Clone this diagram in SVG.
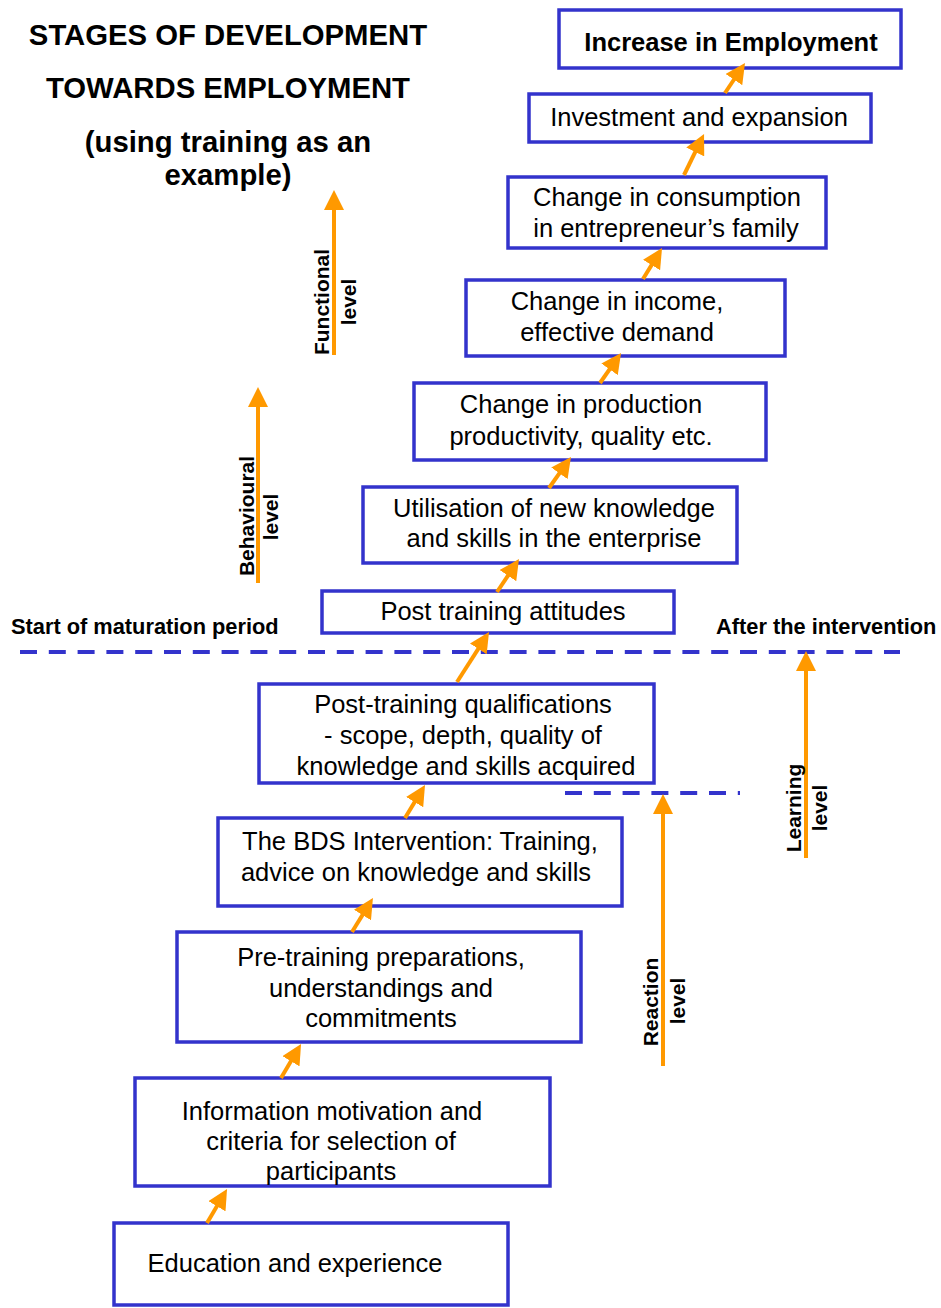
<svg xmlns="http://www.w3.org/2000/svg" width="941" height="1308" viewBox="0 0 941 1308">
  <style>
    text { font-family: "Liberation Sans", Arial, sans-serif; fill: #000; }
    .box { fill: #fff; stroke: #3333CC; stroke-width: 3.5; }
    .bt { font-size: 25.5px; text-anchor: middle; }
    .title { font-size: 29.3px; font-weight: bold; text-anchor: middle; }
    .lab { font-size: 21.8px; font-weight: bold; }
    .vlab { font-size: 21px; font-weight: bold; text-anchor: middle; }
    .conn { stroke: #FF9900; stroke-width: 4; fill: none; marker-end: url(#ah); }
    .dash { stroke: #3333CC; stroke-width: 4; stroke-dasharray: 17 11.8; fill: none; }
  </style>
  <defs>
    <marker id="ah" markerUnits="userSpaceOnUse" markerWidth="20" markerHeight="20" viewBox="0 0 20 20" refX="14" refY="10" orient="auto">
      <path d="M0,0 L20,10 L0,20 z" fill="#FF9900"/>
    </marker>
  </defs>
  <rect width="941" height="1308" fill="#fff"/>

  <!-- heading -->
  <g id="heading">
    <text class="title" x="228" y="45">STAGES OF DEVELOPMENT</text>
    <text class="title" x="228" y="98">TOWARDS EMPLOYMENT</text>
    <text class="title" x="228" y="152">(using training as an</text>
    <text class="title" x="228" y="185">example)</text>
  </g>

  <!-- period markers -->
  <g id="periods">
    <path class="dash" d="M20,652 H900"/>
    <path class="dash" d="M565,793 H740"/>
    <text class="lab" x="11" y="634">Start of maturation period</text>
    <text class="lab" x="716" y="634">After the intervention</text>
  </g>

  <!-- stages -->
  <g id="n-increase">
    <rect class="box" x="559" y="10" width="342" height="58"/>
    <text class="bt" x="731" y="51" font-weight="bold">Increase in Employment</text>
  </g>
  <g id="n-investment">
    <rect class="box" x="529" y="94" width="342" height="48"/>
    <text class="bt" x="699" y="126">Investment and expansion</text>
  </g>
  <g id="n-consumption">
    <rect class="box" x="508" y="177" width="318" height="71"/>
    <text class="bt" x="667" y="206">Change in consumption</text>
    <text class="bt" x="666" y="237">in entrepreneur’s family</text>
  </g>
  <g id="n-income">
    <rect class="box" x="466" y="280" width="319" height="76"/>
    <text class="bt" x="617" y="310">Change in income,</text>
    <text class="bt" x="617" y="341">effective demand</text>
  </g>
  <g id="n-production">
    <rect class="box" x="414" y="383" width="352" height="77"/>
    <text class="bt" x="581" y="413">Change in production</text>
    <text class="bt" x="581" y="445">productivity, quality etc.</text>
  </g>
  <g id="n-utilisation">
    <rect class="box" x="363" y="487" width="374" height="76"/>
    <text class="bt" x="554" y="517">Utilisation of new knowledge</text>
    <text class="bt" x="554" y="547">and skills in the enterprise</text>
  </g>
  <g id="n-attitudes">
    <rect class="box" x="322" y="591" width="352" height="42"/>
    <text class="bt" x="503" y="620">Post training attitudes</text>
  </g>
  <g id="n-qualifications">
    <rect class="box" x="259" y="684" width="395" height="99"/>
    <text class="bt" x="463" y="713">Post-training qualifications</text>
    <text class="bt" x="463" y="744">- scope, depth, quality of</text>
    <text class="bt" x="466" y="775">knowledge and skills acquired</text>
  </g>
  <g id="n-intervention">
    <rect class="box" x="218" y="818" width="404" height="88"/>
    <text class="bt" x="420" y="850">The BDS Intervention: Training,</text>
    <text class="bt" x="416" y="881">advice on knowledge and skills</text>
  </g>
  <g id="n-preparations">
    <rect class="box" x="177" y="932" width="404" height="110"/>
    <text class="bt" x="381" y="966">Pre-training preparations,</text>
    <text class="bt" x="381" y="997">understandings and</text>
    <text class="bt" x="381" y="1027">commitments</text>
  </g>
  <g id="n-information">
    <rect class="box" x="135" y="1078" width="415" height="108"/>
    <text class="bt" x="332" y="1120">Information motivation and</text>
    <text class="bt" x="331" y="1150">criteria for selection of</text>
    <text class="bt" x="331" y="1180">participants</text>
  </g>
  <g id="n-education">
    <rect class="box" x="114" y="1223" width="394" height="82"/>
    <text class="bt" x="295" y="1272">Education and experience</text>
  </g>

  <!-- level axes -->
  <g id="levels">
    <path class="conn" d="M334,355 V196"/>
    <text class="vlab" transform="translate(329,302) rotate(-90)">Functional</text>
    <text class="vlab" transform="translate(356,302) rotate(-90)">level</text>

    <path class="conn" d="M258,583 V393"/>
    <text class="vlab" transform="translate(254,516) rotate(-90)">Behavioural</text>
    <text class="vlab" transform="translate(278,517) rotate(-90)">level</text>

    <path class="conn" d="M806,858 V657"/>
    <text class="vlab" transform="translate(801,808) rotate(-90)">Learning</text>
    <text class="vlab" transform="translate(827,808) rotate(-90)">level</text>

    <path class="conn" d="M663,1066 V800"/>
    <text class="vlab" transform="translate(658,1002) rotate(-90)">Reaction</text>
    <text class="vlab" transform="translate(685,1001) rotate(-90)">level</text>
  </g>

  <!-- connectors between stages -->
  <g id="connectors">
    <path class="conn" d="M207,1223 L224,1194.2"/>
    <path class="conn" d="M281,1078 L298,1049.2"/>
    <path class="conn" d="M352,932 L369.8,903.1"/>
    <path class="conn" d="M405,818 L421.9,790.1"/>
    <path class="conn" d="M457,682 L485.8,637.1"/>
    <path class="conn" d="M497,592 L515.7,564"/>
    <path class="conn" d="M549,488 L567.5,461.9"/>
    <path class="conn" d="M600,383 L617.6,357.9"/>
    <path class="conn" d="M643,279 L658.9,253.1"/>
    <path class="conn" d="M684,175 L701.4,139.4"/>
    <path class="conn" d="M725,93 L741.7,68"/>
  </g>
</svg>
